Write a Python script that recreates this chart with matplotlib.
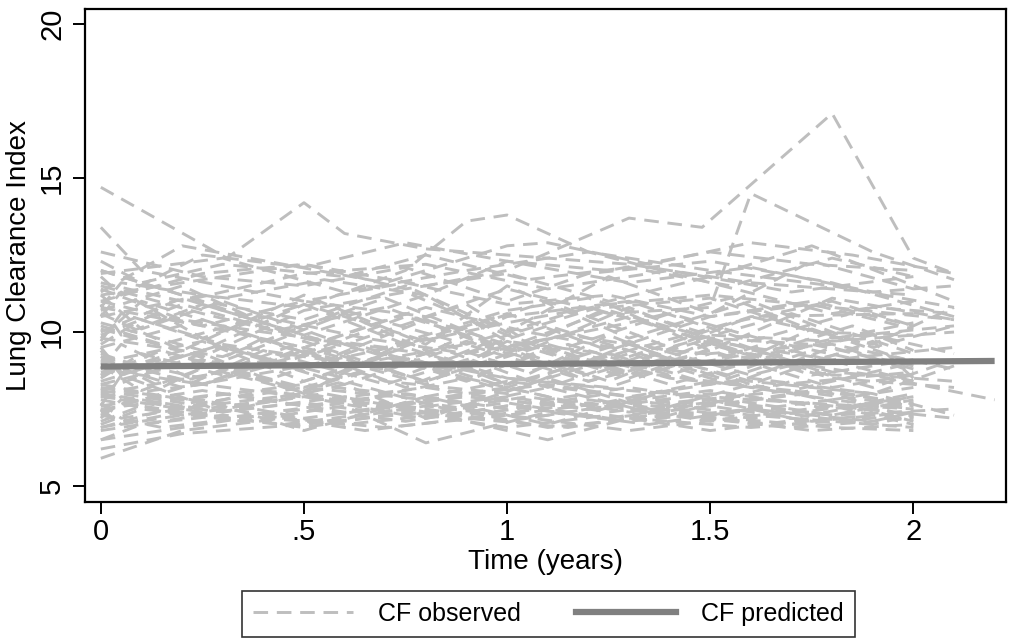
import matplotlib
matplotlib.use("Agg")
import matplotlib.pyplot as plt
from matplotlib.lines import Line2D

plt.rcParams['font.family'] = ['Liberation Sans', 'DejaVu Sans']

# ---- observed data: one list of times and LCI values per subject ----
subject_times = [
    [0, 0.31, 0.5, 0.6, 0.8, 1.0, 1.3, 1.6, 2.0],
    [0, 0.25, 0.5, 0.8, 1.0, 1.3, 1.48, 1.8, 2.0, 2.1],
    [0, 0.25, 0.5, 0.8, 1.0, 1.25, 1.5, 1.6, 1.9, 2.1],
    [0, 0.1, 0.3, 0.5, 0.75, 1.0, 1.25, 1.5, 1.75, 2.0],
    [0, 0.25, 0.5, 0.75, 0.9, 1.0, 1.2, 1.5, 1.8, 2.1],
    [0, 0.05, 0.25, 0.5, 0.75, 1.0, 1.25, 1.5, 1.75, 2.0],
    [0, 0.2, 0.45, 0.7, 1.0, 1.1, 1.35, 1.6, 1.85, 2.1],
    [0, 0.1, 0.3, 0.6, 0.8, 1.05, 1.3, 1.55, 1.8, 2.0],
    [0, 0.25, 0.5, 0.75, 1.0, 1.25, 1.5, 1.75, 2.1],
    [0, 0.05, 0.3, 0.55, 0.8, 1.0, 1.3, 1.6, 1.9, 2.1],
    [0, 0.2, 0.5, 0.8, 1.1, 1.4, 1.7, 2.0],
    [0, 0.25, 0.5, 0.75, 1.0, 1.2, 1.5, 1.8, 2.1],
    [0, 0.3, 0.6, 0.9, 1.2, 1.5, 1.8, 2.0],
    [0, 0.05, 0.25, 0.5, 0.75, 1.0, 1.25, 1.5, 1.75, 2.0],
    [0, 0.2, 0.5, 0.8, 1.0, 1.3, 1.6, 1.9, 2.1],
    [0, 0.1, 0.3, 0.6, 0.9, 1.1, 1.4, 1.7, 2.0],
    [0, 0.25, 0.5, 0.75, 1.0, 1.25, 1.5, 1.8, 2.1],
    [0, 0.05, 0.3, 0.55, 0.8, 1.05, 1.3, 1.6, 1.85, 2.0],
    [0, 0.2, 0.45, 0.7, 1.0, 1.3, 1.55, 1.8, 2.1],
    [0, 0.25, 0.5, 0.8, 1.1, 1.4, 1.7, 2.0],
    [0, 0.1, 0.35, 0.6, 0.85, 1.1, 1.35, 1.6, 1.9, 2.1],
    [0, 0.25, 0.5, 0.75, 1.0, 1.25, 1.5, 1.75, 2.0],
    [0, 0.2, 0.5, 0.8, 1.0, 1.3, 1.6, 2.0],
    [0, 0.3, 0.6, 0.9, 1.2, 1.5, 1.8, 2.1],
    [0, 0.05, 0.25, 0.55, 0.8, 1.05, 1.3, 1.55, 1.8, 2.0],
    [0, 0.25, 0.5, 0.75, 1.0, 1.25, 1.5, 1.75],
    [0, 0.2, 0.4, 0.7, 1.0, 1.2, 1.5, 1.8, 2.1],
    [0, 0.15, 0.4, 0.65, 0.9, 1.15, 1.4, 1.65, 1.9, 2.2],
    [0, 0.05, 0.25, 0.5, 0.75, 1.0, 1.25, 1.5, 1.75, 2.0],
    [0, 0.2, 0.5, 0.8, 1.0, 1.3, 1.6, 1.9, 2.1],
    [0, 0.1, 0.3, 0.6, 0.9, 1.1, 1.4, 1.7, 2.0],
    [0, 0.25, 0.5, 0.75, 1.0, 1.25, 1.5, 1.8, 2.1],
    [0, 0.05, 0.3, 0.55, 0.8, 1.05, 1.3, 1.6, 1.85, 2.0],
    [0, 0.2, 0.45, 0.7, 1.0, 1.3, 1.55, 1.8, 2.0],
    [0, 0.25, 0.5, 0.8, 1.1, 1.4, 1.7, 2.0],
    [0, 0.1, 0.35, 0.6, 0.85, 1.1, 1.35, 1.6, 1.9, 2.1],
    [0, 0.25, 0.5, 0.75, 1.0, 1.25, 1.5, 1.75, 2.0],
    [0, 0.2, 0.5, 0.8, 1.0, 1.3, 1.6, 2.0],
    [0, 0.3, 0.6, 0.9, 1.2, 1.5, 1.8, 2.1],
    [0, 0.05, 0.25, 0.55, 0.8, 1.05, 1.3, 1.55, 1.8, 2.0],
    [0, 0.25, 0.5, 0.75, 1.0, 1.25, 1.5, 1.75],
    [0, 0.2, 0.4, 0.7, 1.0, 1.2, 1.5, 1.8, 2.1],
    [0, 0.15, 0.4, 0.65, 0.9, 1.15, 1.4, 1.65, 1.9],
    [0, 0.05, 0.25, 0.5, 0.75, 1.0, 1.25, 1.5, 1.75, 2.0],
    [0, 0.2, 0.5, 0.8, 1.0, 1.3, 1.6, 1.9, 2.0],
    [0, 0.1, 0.3, 0.6, 0.9, 1.1, 1.4, 1.7, 2.0],
    [0, 0.25, 0.5, 0.75, 1.0, 1.25, 1.5, 1.8, 2.0],
    [0, 0.05, 0.3, 0.55, 0.8, 1.05, 1.3, 1.6, 1.85, 2.0],
    [0, 0.2, 0.45, 0.7, 1.0, 1.3, 1.55, 1.8, 2.0],
    [0, 0.25, 0.5, 0.8, 1.1, 1.4, 1.7, 2.0],
    [0, 0.1, 0.35, 0.6, 0.8, 1.1, 1.35, 1.6, 1.9, 2.0],
    [0, 0.25, 0.5, 0.75, 1.0, 1.25, 1.5, 1.75, 2.0],
    [0, 0.2, 0.5, 0.8, 1.1, 1.3, 1.6, 2.0],
    [0, 0.3, 0.6, 0.9, 1.2, 1.5, 1.8, 2.0],
    [0, 0.05, 0.25, 0.55, 0.8, 1.05, 1.3, 1.55, 1.8, 2.0],
    [0, 0.25, 0.5, 0.75, 1.0, 1.25, 1.5, 1.75],
    [0, 0.2, 0.4, 0.7, 1.0, 1.2, 1.5, 1.8, 2.0],
    [0, 0.15, 0.4, 0.65, 0.9, 1.15, 1.4, 1.65, 1.9],
    [0, 0.05, 0.3, 0.5, 0.8, 1.0, 1.3, 1.6, 2.0],
    [0, 0.25, 0.5, 0.75, 1.0, 1.25, 1.5, 1.8, 2.1],
    [0, 0.2, 0.5, 0.8, 1.0, 1.3, 1.6, 1.9, 2.1],
    [0, 0.1, 0.3, 0.6, 0.9, 1.2, 1.5, 1.8, 2.0],
    [0, 0.25, 0.55, 0.8, 1.05, 1.3, 1.55, 1.8, 2.0],
    [0, 0.2, 0.45, 0.75, 1.0, 1.25, 1.5, 1.75, 2.0],
    [0, 0.3, 0.6, 0.9, 1.2, 1.5, 1.8, 2.1],
    [0, 0.25, 0.5, 0.8, 1.0, 1.3, 1.6, 2.0],
    [0, 0.2, 0.5, 0.75, 1.0, 1.25, 1.5, 1.8, 2.1],
    [0, 0.1, 0.3, 0.6, 0.9, 1.2, 1.5, 1.8, 2.0],
    [0, 0.25, 0.5, 0.75, 1.0, 1.25, 1.5, 1.75, 2.0],
    [0, 0.2, 0.45, 0.7, 1.0, 1.3, 1.6, 1.9, 2.1],
    [0, 0.05, 0.3, 0.6, 0.8, 1.1, 1.4, 1.7, 2.0],
    [0, 0.25, 0.5, 0.8, 1.1, 1.4, 1.7, 2.0],
    [0, 0.1, 0.35, 0.6, 0.85, 1.1, 1.35, 1.6, 1.85, 2.0],
    [0, 0.2, 0.5, 0.8, 1.0, 1.3, 1.6, 1.9, 2.1],
    [0, 0.3, 0.6, 0.9, 1.2, 1.5, 1.8, 2.0],
    [0, 0.25, 0.5, 0.75, 1.0, 1.25, 1.5, 1.75, 2.0],
    [0, 0.15, 0.4, 0.7, 1.0, 1.3, 1.6, 1.9, 2.0],
]

subject_lci = [
    [14.7, 12.4, 14.2, 13.2, 12.7, 12.5, 12.2, 11.6, 11.2],
    [11.2, 11.7, 12.2, 11.5, 12.0, 13.7, 13.4, 17.1, 12.4, 11.9],
    [10.8, 10.2, 11.0, 10.5, 11.4, 10.6, 10.8, 14.5, 12.6, 11.7],
    [13.4, 12.0, 11.5, 11.0, 11.6, 10.9, 11.2, 10.5, 11.0, 10.2],
    [10.5, 11.2, 10.8, 12.0, 13.6, 13.8, 12.6, 12.0, 11.5, 10.8],
    [11.8, 11.2, 12.5, 12.1, 12.9, 12.3, 12.0, 12.6, 12.2, 12.0],
    [11.3, 12.8, 12.2, 11.6, 12.8, 12.9, 12.2, 12.9, 12.5, 11.9],
    [12.3, 11.6, 12.2, 11.8, 12.5, 11.7, 12.1, 11.5, 12.4, 11.8],
    [11.0, 11.9, 12.2, 11.4, 11.9, 11.0, 11.8, 12.8, 11.0],
    [10.8, 11.6, 11.1, 11.7, 11.2, 12.3, 11.6, 12.1, 11.3, 11.5],
    [11.6, 11.0, 11.9, 12.2, 11.4, 12.0, 11.3, 11.8],
    [12.6, 11.8, 11.5, 12.1, 11.0, 11.9, 12.3, 11.6, 10.5],
    [11.9, 12.4, 11.3, 12.0, 12.6, 11.6, 10.6, 11.0],
    [10.5, 11.3, 9.8, 10.9, 9.6, 10.6, 9.4, 10.5, 10.9, 10.1],
    [9.9, 10.9, 9.8, 9.3, 10.5, 11.0, 9.7, 10.8, 10.6],
    [11.2, 10.1, 11.0, 9.6, 10.9, 9.3, 10.6, 9.5, 10.3],
    [10.1, 9.2, 10.7, 11.3, 9.9, 10.9, 9.4, 11.1, 10.4],
    [9.7, 10.6, 9.6, 9.1, 10.4, 9.4, 10.8, 9.2, 10.2, 9.4],
    [10.7, 11.5, 10.0, 11.1, 9.5, 10.3, 11.1, 9.8, 10.2],
    [10.3, 9.4, 10.9, 9.7, 11.0, 9.5, 10.6, 9.3],
    [9.6, 10.4, 9.3, 10.6, 9.1, 10.2, 9.2, 10.5, 9.6, 10.8],
    [11.0, 10.2, 9.5, 10.6, 9.3, 10.8, 11.1, 10.0, 9.9],
    [10.0, 11.1, 9.9, 11.2, 9.7, 9.2, 10.5, 10.6],
    [9.8, 9.2, 10.7, 9.6, 10.8, 9.7, 9.1, 9.5],
    [10.9, 9.9, 10.9, 9.7, 10.8, 10.0, 9.4, 10.3, 11.0, 10.2],
    [9.5, 10.4, 9.3, 10.5, 9.5, 10.7, 9.8, 9.6],
    [11.4, 10.4, 10.0, 9.5, 10.7, 11.1, 9.9, 9.7, 10.0],
    [10.2, 9.6, 10.5, 9.8, 9.3, 9.9, 9.4, 9.1, 8.6, 7.8],
    [8.8, 9.6, 8.3, 9.4, 8.2, 9.5, 8.4, 9.7, 8.6, 9.1],
    [9.3, 8.4, 9.4, 8.3, 9.7, 8.6, 9.3, 8.2, 9.1],
    [8.5, 9.3, 8.6, 9.6, 8.4, 9.5, 8.3, 9.4, 8.4],
    [9.0, 9.7, 8.4, 9.5, 8.5, 8.2, 9.3, 9.6, 8.8],
    [9.4, 8.6, 9.6, 8.5, 9.8, 8.7, 9.7, 8.6, 9.4, 8.7],
    [8.6, 9.4, 8.2, 9.2, 8.1, 9.3, 8.3, 9.5, 8.8],
    [9.1, 8.3, 9.5, 8.4, 9.6, 8.5, 8.1, 9.0],
    [8.9, 8.1, 9.3, 8.3, 9.4, 8.2, 9.3, 8.4, 8.0, 8.9],
    [9.2, 8.5, 9.7, 8.6, 9.9, 8.8, 8.4, 9.6, 8.9],
    [8.4, 9.2, 8.2, 9.3, 8.3, 9.4, 8.2, 8.7],
    [8.7, 9.5, 8.5, 9.7, 8.6, 9.8, 8.7, 8.4],
    [9.5, 8.7, 8.3, 9.4, 8.4, 9.5, 8.5, 9.7, 8.6, 8.6],
    [8.3, 9.1, 8.1, 9.2, 8.2, 9.3, 8.3, 9.4],
    [9.0, 8.2, 9.4, 8.3, 9.5, 8.4, 9.6, 8.5, 8.2],
    [8.6, 9.4, 8.4, 9.5, 8.5, 9.6, 8.6, 9.7, 9.0],
    [7.2, 7.8, 7.4, 7.9, 7.3, 7.7, 7.2, 7.6, 7.1, 7.4],
    [7.8, 7.3, 7.7, 7.2, 7.6, 7.1, 7.5, 7.0, 7.3],
    [6.5, 7.0, 7.3, 7.0, 7.4, 6.9, 7.3, 6.9, 7.2],
    [8.1, 7.6, 8.0, 7.5, 7.9, 7.4, 7.8, 7.3, 7.7],
    [7.5, 7.0, 7.5, 7.1, 7.6, 7.2, 7.7, 7.2, 7.6, 7.1],
    [5.9, 6.8, 7.2, 6.9, 7.3, 6.8, 7.2, 6.9, 6.8],
    [8.2, 7.7, 8.2, 7.8, 8.3, 7.7, 8.1, 7.6],
    [7.0, 7.5, 7.1, 7.6, 6.4, 7.4, 7.0, 7.5, 7.1, 7.4],
    [7.6, 8.1, 7.6, 8.0, 7.5, 8.0, 7.6, 8.1, 7.7],
    [6.2, 6.7, 7.0, 7.4, 6.5, 7.2, 6.9, 7.3],
    [7.9, 7.4, 7.9, 7.3, 7.8, 7.3, 7.8, 7.5],
    [7.4, 7.9, 7.5, 8.0, 7.4, 7.9, 7.4, 7.8, 7.3, 7.8],
    [6.8, 7.3, 6.9, 7.4, 6.9, 7.3, 6.8, 7.2],
    [8.0, 7.5, 8.1, 7.6, 8.2, 7.6, 8.1, 7.5, 7.9],
    [7.3, 6.9, 7.3, 6.8, 7.2, 6.9, 7.4, 7.0, 7.3],
    [7.7, 7.2, 7.7, 7.2, 7.7, 7.3, 7.8, 7.3, 6.9],
    [6.5, 7.0, 7.5, 7.1, 7.6, 7.2, 7.7, 7.3, 7.5],
    [8.3, 7.8, 8.3, 7.9, 8.4, 7.9, 8.5, 8.0, 7.3],
    [7.1, 7.6, 7.2, 7.7, 7.2, 7.7, 7.1, 7.6, 7.0],
    [7.9, 8.3, 7.8, 8.2, 7.7, 8.2, 7.7, 8.1, 7.6],
    [6.9, 7.4, 7.0, 7.5, 7.1, 7.6, 7.2, 6.8, 7.0],
    [7.5, 8.0, 7.4, 7.9, 7.5, 8.0, 7.6, 7.2],
    [11.5, 10.6, 9.8, 9.0, 8.5, 8.1, 7.8, 7.5],
    [7.4, 8.2, 8.9, 9.6, 10.3, 10.9, 11.2, 10.8, 10.4],
    [9.8, 11.0, 10.2, 8.9, 9.6, 8.4, 9.4, 8.2, 8.6],
    [8.1, 9.3, 8.0, 9.7, 8.3, 9.9, 8.6, 10.1, 9.0],
    [12.0, 11.2, 10.1, 10.8, 9.4, 10.5, 9.2, 9.9, 9.3],
    [7.6, 8.6, 7.4, 8.3, 7.2, 8.5, 7.3, 8.4, 7.2],
    [6.9, 7.8, 6.8, 7.9, 7.0, 8.1, 7.2, 7.9],
    [7.3, 8.0, 7.6, 8.4, 7.5, 8.2, 7.4, 8.3, 7.6, 8.0],
    [10.6, 9.4, 11.2, 9.6, 11.5, 9.8, 11.0, 9.5, 10.2],
    [8.0, 8.7, 7.7, 8.5, 7.6, 8.4, 7.8, 8.2],
    [12.0, 11.0, 10.4, 11.5, 10.0, 11.8, 10.6, 12.3, 11.4],
    [9.2, 8.2, 9.8, 8.4, 8.0, 9.6, 8.3, 9.7, 8.5],
]

# ---- predicted (model) line ----
pred_time = [0, 2.2]
pred_lci = [8.88, 9.06]

x_ticks = [0, 0.5, 1, 1.5, 2]
x_ticklabels = ["0", ".5", "1", "1.5", "2"]
y_ticks = [5, 10, 15, 20]
y_ticklabels = ["5", "10", "15", "20"]

obs_color = "#bebebe"
pred_color = "#808080"
obs_dash = (0, (5, 3))

fig = plt.figure(figsize=(10.13, 6.44), dpi=100)
ax = fig.add_axes([0.0839, 0.2205, 0.9096, 0.7655])

for t, v in zip(subject_times, subject_lci):
    ax.plot(t, v, color=obs_color, lw=2.1, linestyle=obs_dash)
ax.plot(pred_time, pred_lci, color=pred_color, lw=4.5, solid_capstyle='butt')

ax.set_xlim(-0.039, 2.229)
ax.set_ylim(4.48, 20.49)
ax.set_xticks(x_ticks)
ax.set_xticklabels(x_ticklabels)
ax.set_yticks(y_ticks)
ax.set_yticklabels(y_ticklabels, rotation=90, va='center')
ax.tick_params(axis='both', length=8.5, width=1.4, labelsize=21)
ax.tick_params(axis='x', pad=3)
ax.tick_params(axis='y', pad=5)
for sp in ax.spines.values():
    sp.set_linewidth(1.6)
    sp.set_color('black')

ax.set_xlabel("Time (years)", fontsize=20, labelpad=2)
ax.set_ylabel("Lung Clearance Index", fontsize=20)
ax.yaxis.set_label_coords(-0.058, 0.5)

handles = [
    Line2D([0], [0], color=obs_color, lw=2.1, linestyle=obs_dash),
    Line2D([0], [0], color=pred_color, lw=4.5),
]
leg = fig.legend(handles, ["CF observed", "CF predicted"], loc='center',
                 bbox_to_anchor=(548.5 / 1013, 1 - 614 / 644), ncol=2,
                 frameon=True, fancybox=False, edgecolor='black',
                 fontsize=18, handlelength=4.0, columnspacing=2.2,
                 handletextpad=1.0, borderpad=0.45)
leg.get_frame().set_linewidth(1.2)

fig.savefig("out.png", dpi=100)
